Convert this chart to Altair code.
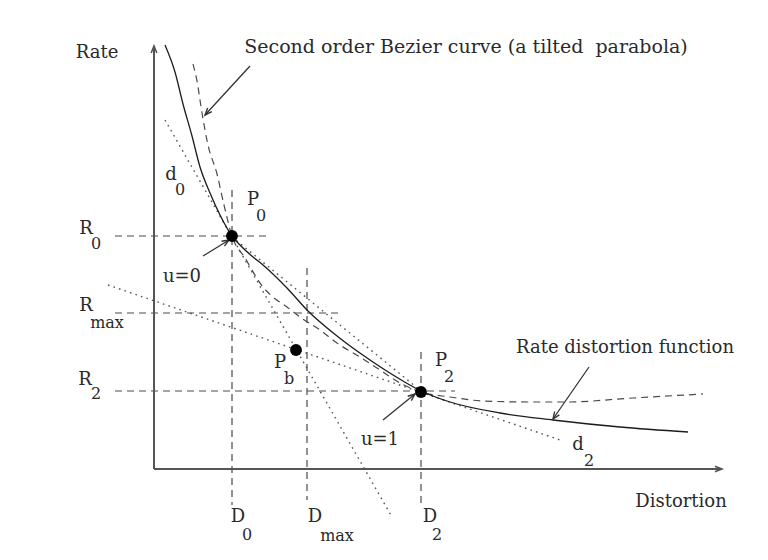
import math
import altair as alt
import pandas as pd

# ---------------- data (diagram coordinates: D to the right, R measured downward as on the page) -------------
# Rate-distortion function (solid)
rd_D = [165, 175, 183, 192, 200, 210, 220, 232, 240, 253, 263, 287, 308, 337, 370, 403, 421, 450, 500, 553, 620, 688]
rd_R = [45, 72, 104, 136, 167, 193, 215, 236, 245, 257, 265, 288, 311, 336, 360, 381, 391, 402, 413, 420, 427, 432]

# Second order Bezier curve / tilted parabola (dashed)
bz_D = [193, 197, 202, 208, 217, 224, 232, 245, 263, 273, 287, 300, 320, 337, 360, 380, 400, 421, 450, 483, 530, 567, 633, 703]
bz_R = [64, 81, 113, 145, 174, 205, 236, 258, 287, 297, 307, 317, 330, 343, 357, 370, 383, 392, 397, 401, 402, 402, 398, 394]

# Key points
pt_name = ["P0", "Pb", "P2"]
pt_D = [232, 296, 421]
pt_R = [236, 350, 392]

# Dashed guide lines (x1, y1, x2, y2)
guide_x1 = [115, 115, 115, 232, 307, 421]
guide_y1 = [236, 313, 391, 190, 268, 352]
guide_x2 = [270, 343, 455, 232, 307, 421]
guide_y2 = [236, 313, 391, 505, 500, 505]

# Dotted lines: tangent d0, tangent d2, chord P0-P2
dot_x1 = [165, 108, 232]
dot_y1 = [120, 285, 237]
dot_x2 = [392, 560, 421]
dot_y2 = [517, 440, 391]

# Axes (with arrow heads)
axis_x1 = [154, 154]
axis_y1 = [469, 469]
axis_x2 = [154, 722]
axis_y2 = [46, 469]

# Annotation arrows (tail -> tip)
arr_x1 = [250, 589, 203, 383]
arr_y1 = [66, 367, 256, 420]
arr_x2 = [205, 553, 229, 415]
arr_y2 = [115, 419, 240, 394]

# Text labels
lab_text = ["Rate", "Second order Bezier curve (a tilted\u00a0 parabola)",
            "d", "0", "P", "0", "R", "0", "u=0", "R", "max", "P", "b",
            "R", "2", "P", "2", "Rate distortion function", "u=1", "d", "2",
            "Distortion", "D", "0", "D", "max", "D", "2"]
lab_x = [97, 466, 171, 180, 253, 261, 86, 96, 182, 86, 107, 280, 289,
         85, 96, 441, 449, 625, 380, 578, 589, 681, 238, 247, 315, 337, 430, 437]
lab_y = [53, 47, 175, 190, 200, 216, 229, 244, 277, 306, 323, 363, 379,
         380, 394, 361, 377, 348, 440, 445, 461, 502, 517, 535, 517, 536, 517, 535]
lab_size = [18, 19, 18, 16, 18, 16, 18, 16, 18, 18, 16, 18, 16,
            18, 16, 18, 16, 18, 18, 18, 16, 18, 18, 16, 18, 16, 18, 16]

# ---------------- build chart ----------------
X = alt.X("x:Q", scale=alt.Scale(domain=[8, 760]), axis=None)
Y = alt.Y("y:Q", scale=alt.Scale(domain=[8, 552], reverse=True), axis=None)

rd_df = pd.DataFrame({"x": rd_D, "y": rd_R})
bz_df = pd.DataFrame({"x": bz_D, "y": bz_R})
pt_df = pd.DataFrame({"x": pt_D, "y": pt_R, "name": pt_name})


def seg_df(x1, y1, x2, y2):
    return pd.DataFrame({"x": x1, "y": y1, "x2": x2, "y2": y2})


def head_df(x1, y1, x2, y2):
    ang = [(math.degrees(math.atan2(b2 - a2, -(d2 - c2)))) % 360
           for a2, c2, b2, d2 in zip(x1, y1, x2, y2)]
    return pd.DataFrame({"x": x2, "y": y2, "ang": ang})


ink = "#1c1c1c"
grey = "#4a4a4a"

rd_line = alt.Chart(rd_df).mark_line(color=ink, strokeWidth=1.3, interpolate="monotone").encode(
    x=X, y=Y, order="x:Q")
bz_line = alt.Chart(bz_df).mark_line(color=grey, strokeWidth=1.2, strokeDash=[7, 5],
                                     interpolate="monotone").encode(x=X, y=Y, order="x:Q")

guides = alt.Chart(seg_df(guide_x1, guide_y1, guide_x2, guide_y2)).mark_rule(
    color=grey, strokeWidth=1.2, strokeDash=[7, 5]).encode(x=X, y=Y, x2="x2:Q", y2="y2:Q")
dots = alt.Chart(seg_df(dot_x1, dot_y1, dot_x2, dot_y2)).mark_rule(
    color="#555555", strokeWidth=1.4, strokeDash=[1.6, 4.2]).encode(x=X, y=Y, x2="x2:Q", y2="y2:Q")

axes = alt.Chart(seg_df(axis_x1, axis_y1, axis_x2, axis_y2)).mark_rule(
    color="#555555", strokeWidth=2).encode(x=X, y=Y, x2="x2:Q", y2="y2:Q")
arrows = alt.Chart(seg_df(arr_x1, arr_y1, arr_x2, arr_y2)).mark_rule(
    color="#333333", strokeWidth=1.3).encode(x=X, y=Y, x2="x2:Q", y2="y2:Q")

head_shape = "M-0.4,1L0,0L0.4,1"
axis_heads = alt.Chart(head_df(axis_x1, axis_y1, axis_x2, axis_y2)).mark_point(
    shape=head_shape, filled=False, size=200, color="#555555", strokeWidth=1.6, opacity=1).encode(
    x=X, y=Y, angle=alt.Angle("ang:Q", scale=None))
arr_heads = alt.Chart(head_df(arr_x1, arr_y1, arr_x2, arr_y2)).mark_point(
    shape=head_shape, filled=False, size=200, color="#333333", strokeWidth=1.4, opacity=1).encode(
    x=X, y=Y, angle=alt.Angle("ang:Q", scale=None))

points = alt.Chart(pt_df).mark_circle(size=140, color="#000000", opacity=1).encode(x=X, y=Y)

lab_df = pd.DataFrame({"x": lab_x, "y": lab_y, "t": lab_text, "s": lab_size})
texts = alt.Chart(lab_df).mark_text(
    font="DejaVu Serif", color="#2a2a2a", align="center", baseline="middle").encode(
    x=X, y=Y, text="t:N", size=alt.Size("s:Q", scale=None, legend=None))

chart = alt.layer(guides, dots, bz_line, rd_line, axes, axis_heads, arrows, arr_heads, points,
                  texts).properties(
    width=752, height=544, padding=0, autosize=alt.AutoSizeParams(type="none"),
    background="white").configure_view(stroke=None)

chart.save("out.html", embed_options={"renderer": "svg", "actions": False})
